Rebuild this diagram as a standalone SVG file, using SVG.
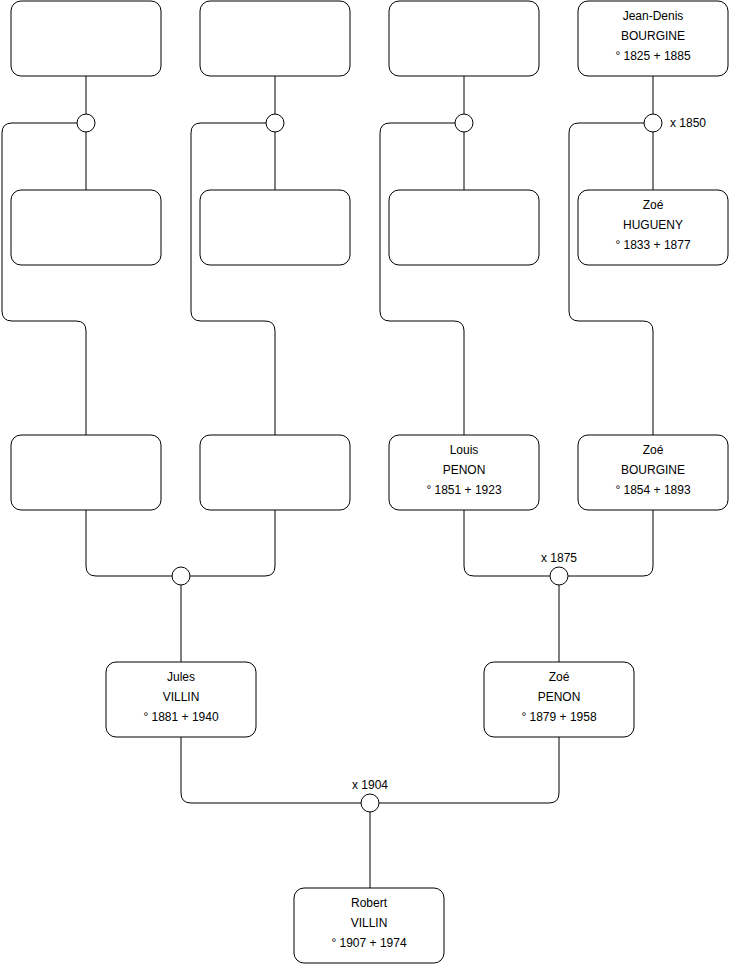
<svg xmlns="http://www.w3.org/2000/svg" width="740" height="975" viewBox="0 0 740 975">
<style>
.box{fill:#fff;stroke:#000;stroke-width:1}
.c{fill:#fff;stroke:#000;stroke-width:1}
.l{fill:none;stroke:#000;stroke-width:1}
text{font-family:"Liberation Sans",Arial,sans-serif;font-size:12px;fill:#000}
.m{text-anchor:middle}
</style>
<rect width="740" height="975" fill="#fff"/>
<g id="connectors">
<path class="l" d="M86,76 V114 M86,132 V190"/>
<path class="l" d="M275,76 V114 M275,132 V190"/>
<path class="l" d="M464,76 V114 M464,132 V190"/>
<path class="l" d="M653,76 V114 M653,132 V190"/>
<path class="l" d="M77,123 H12 Q2,123 2,133 V311 Q2,321 12,321 H76 Q86,321 86,331 V435"/>
<path class="l" d="M266,123 H201 Q191,123 191,133 V311 Q191,321 201,321 H265 Q275,321 275,331 V435"/>
<path class="l" d="M455,123 H390 Q380,123 380,133 V311 Q380,321 390,321 H454 Q464,321 464,331 V435"/>
<path class="l" d="M644,123 H579 Q569,123 569,133 V311 Q569,321 579,321 H643 Q653,321 653,331 V435"/>
<path class="l" d="M86,510 V566 Q86,576 96,576 H172 M275,510 V566 Q275,576 265,576 H190"/>
<path class="l" d="M464,510 V566 Q464,576 474,576 H550 M653,510 V566 Q653,576 643,576 H568"/>
<path class="l" d="M181,585 V662 M559,585 V662"/>
<path class="l" d="M181,737 V793 Q181,803 191,803 H361 M559,737 V793 Q559,803 549,803 H379"/>
<path class="l" d="M370,812 V888"/>
<circle class="c" cx="86" cy="123" r="9"/>
<circle class="c" cx="275" cy="123" r="9"/>
<circle class="c" cx="464" cy="123" r="9"/>
<circle class="c" cx="653" cy="123" r="9"/>
<circle class="c" cx="181" cy="576" r="9"/>
<circle class="c" cx="559" cy="576" r="9"/>
<circle class="c" cx="370" cy="803" r="9"/>
<text x="670" y="127">x 1850</text>
<text class="m" x="559" y="562">x 1875</text>
<text class="m" x="370" y="789">x 1904</text>
</g>
<g id="n1"><rect class="box" x="11" y="1" width="150" height="75" rx="10"/></g>
<g id="n2"><rect class="box" x="200" y="1" width="150" height="75" rx="10"/></g>
<g id="n3"><rect class="box" x="389" y="1" width="150" height="75" rx="10"/></g>
<g id="n4"><rect class="box" x="578" y="1" width="150" height="75" rx="10"/>
<text class="m" x="653" y="20">Jean-Denis</text><text class="m" x="653" y="40">BOURGINE</text><text class="m" x="653" y="60">° 1825 + 1885</text></g>
<g id="n5"><rect class="box" x="11" y="190" width="150" height="75" rx="10"/></g>
<g id="n6"><rect class="box" x="200" y="190" width="150" height="75" rx="10"/></g>
<g id="n7"><rect class="box" x="389" y="190" width="150" height="75" rx="10"/></g>
<g id="n8"><rect class="box" x="578" y="190" width="150" height="75" rx="10"/>
<text class="m" x="653" y="209">Zoé</text><text class="m" x="653" y="229">HUGUENY</text><text class="m" x="653" y="249">° 1833 + 1877</text></g>
<g id="n9"><rect class="box" x="11" y="435" width="150" height="75" rx="10"/></g>
<g id="n10"><rect class="box" x="200" y="435" width="150" height="75" rx="10"/></g>
<g id="n11"><rect class="box" x="389" y="435" width="150" height="75" rx="10"/>
<text class="m" x="464" y="454">Louis</text><text class="m" x="464" y="474">PENON</text><text class="m" x="464" y="494">° 1851 + 1923</text></g>
<g id="n12"><rect class="box" x="578" y="435" width="150" height="75" rx="10"/>
<text class="m" x="653" y="454">Zoé</text><text class="m" x="653" y="474">BOURGINE</text><text class="m" x="653" y="494">° 1854 + 1893</text></g>
<g id="n13"><rect class="box" x="106" y="662" width="150" height="75" rx="10"/>
<text class="m" x="181" y="681">Jules</text><text class="m" x="181" y="701">VILLIN</text><text class="m" x="181" y="721">° 1881 + 1940</text></g>
<g id="n14"><rect class="box" x="484" y="662" width="150" height="75" rx="10"/>
<text class="m" x="559" y="681">Zoé</text><text class="m" x="559" y="701">PENON</text><text class="m" x="559" y="721">° 1879 + 1958</text></g>
<g id="n15"><rect class="box" x="294" y="888" width="150" height="75" rx="10"/>
<text class="m" x="369" y="907">Robert</text><text class="m" x="369" y="927">VILLIN</text><text class="m" x="369" y="947">° 1907 + 1974</text></g>
</svg>
